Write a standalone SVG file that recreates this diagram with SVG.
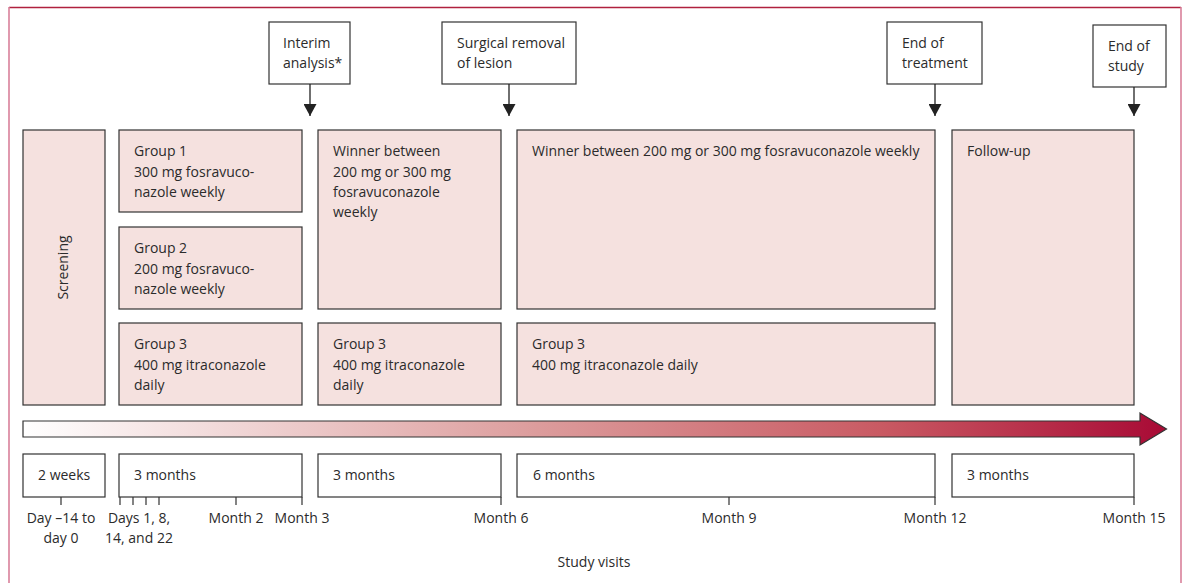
<svg xmlns="http://www.w3.org/2000/svg" width="1187" height="583" viewBox="0 0 1187 583">
<style>
text{font-family:"Open Sans","Noto Sans","Liberation Sans",sans-serif;font-size:14px;fill:#2b2b2b}
.box{fill:#f5e1df;stroke:#333;stroke-width:1.2}
.wbox{fill:#fff;stroke:#333;stroke-width:1.2}
.tick{stroke:#333;stroke-width:1.2;fill:none}
.conn{stroke:#222;stroke-width:1.3;fill:none}
.mid{text-anchor:middle}
</style>
<defs>
<marker id="ah" viewBox="0 0 12 13" refX="12" refY="6.5" markerWidth="12" markerHeight="13" markerUnits="userSpaceOnUse" orient="auto">
<path d="M0,0L12,6.5L0,13Z" fill="#222"/>
</marker>
<linearGradient id="grad" x1="23" y1="0" x2="1167" y2="0" gradientUnits="userSpaceOnUse">
<stop offset="0" stop-color="#ffffff"/>
<stop offset="0.45" stop-color="#dc9c9c"/>
<stop offset="0.75" stop-color="#c95a63"/>
<stop offset="1" stop-color="#a80a35"/>
</linearGradient>
</defs>
<g id="frame">
<line x1="9" y1="7.5" x2="1181" y2="7.5" stroke="#b0213f" stroke-width="1.3"/>
<line x1="9" y1="7" x2="9" y2="583" stroke="#d9809a" stroke-width="1.6"/>
<line x1="1181" y1="7" x2="1181" y2="583" stroke="#d9809a" stroke-width="1.6"/>
</g>
<g id="interim"><rect class="wbox" x="269" y="22" width="81" height="62"/><text x="283" y="48">Interim</text><text x="283" y="68">analysis*</text></g>
<g id="surgical"><rect class="wbox" x="442" y="22" width="134" height="62"/><text x="457" y="48">Surgical removal</text><text x="457" y="68">of lesion</text></g>
<g id="endtreat"><rect class="wbox" x="887" y="22" width="95" height="62"/><text x="902" y="48">End of</text><text x="902" y="68">treatment</text></g>
<g id="endstudy"><rect class="wbox" x="1093" y="25" width="73" height="62"/><text x="1108" y="51">End of</text><text x="1108" y="71">study</text></g>
<g id="connectors">
<line class="conn" x1="310" y1="84" x2="310" y2="116" marker-end="url(#ah)"/>
<line class="conn" x1="509" y1="84" x2="509" y2="116" marker-end="url(#ah)"/>
<line class="conn" x1="935" y1="84" x2="935" y2="116" marker-end="url(#ah)"/>
<line class="conn" x1="1134" y1="87" x2="1134" y2="116" marker-end="url(#ah)"/>
</g>
<g id="screening"><rect class="box" x="23" y="130" width="82" height="275"/><text class="mid" transform="translate(68,267.5) rotate(-90)">Screening</text></g>
<g id="group1"><rect class="box" x="119" y="130" width="183" height="82"/><text x="134" y="156">Group 1</text><text x="134" y="177">300 mg fosravuco-</text><text x="134" y="197">nazole weekly</text></g>
<g id="group2"><rect class="box" x="119" y="227" width="183" height="82"/><text x="134" y="253">Group 2</text><text x="134" y="274">200 mg fosravuco-</text><text x="134" y="294">nazole weekly</text></g>
<g id="group3a"><rect class="box" x="119" y="323" width="183" height="82"/><text x="134" y="349">Group 3</text><text x="134" y="370">400 mg itraconazole</text><text x="134" y="390">daily</text></g>
<g id="winner1"><rect class="box" x="318" y="130" width="183" height="179"/><text x="333" y="156">Winner between</text><text x="333" y="177">200 mg or 300 mg</text><text x="333" y="197">fosravuconazole</text><text x="333" y="217">weekly</text></g>
<g id="group3b"><rect class="box" x="318" y="323" width="183" height="82"/><text x="333" y="349">Group 3</text><text x="333" y="370">400 mg itraconazole</text><text x="333" y="390">daily</text></g>
<g id="winner2"><rect class="box" x="517" y="130" width="418" height="179"/><text x="532" y="156">Winner between 200 mg or 300 mg fosravuconazole weekly</text></g>
<g id="group3c"><rect class="box" x="517" y="323" width="418" height="82"/><text x="532" y="349">Group 3</text><text x="532" y="370">400 mg itraconazole daily</text></g>
<g id="followup"><rect class="box" x="952" y="130" width="182" height="275"/><text x="967" y="156">Follow-up</text></g>
<g id="timearrow"><path d="M23,421H1140V413L1166.5,429L1140,445V437H23Z" fill="url(#grad)" stroke="#333" stroke-width="1.2" stroke-linejoin="miter"/></g>
<g id="dur1"><rect class="wbox" x="23" y="454" width="82" height="43"/><text x="38" y="480">2 weeks</text></g>
<g id="dur2"><rect class="wbox" x="119" y="454" width="183" height="43"/><text x="134" y="480">3 months</text></g>
<g id="dur3"><rect class="wbox" x="318" y="454" width="183" height="43"/><text x="333" y="480">3 months</text></g>
<g id="dur4"><rect class="wbox" x="517" y="454" width="418" height="43"/><text x="533" y="480">6 months</text></g>
<g id="dur5"><rect class="wbox" x="952" y="454" width="182" height="43"/><text x="967" y="480">3 months</text></g>
<g id="ticks">
<path class="tick" d="M61,497V505M120,497V505M133,497V505M146,497V505M159,497V505M236,497V505M302,497V505M501,497V505M729,497V505M935,497V505M1134,497V505"/>
</g>
<g id="labels">
<text class="mid" x="61" y="523">Day –14 to</text><text class="mid" x="61" y="543">day 0</text>
<text class="mid" x="139" y="523">Days 1, 8,</text><text class="mid" x="139" y="543">14, and 22</text>
<text class="mid" x="236" y="523">Month 2</text>
<text class="mid" x="302" y="523">Month 3</text>
<text class="mid" x="501" y="523">Month 6</text>
<text class="mid" x="729" y="523">Month 9</text>
<text class="mid" x="935" y="523">Month 12</text>
<text class="mid" x="1134" y="523">Month 15</text>
<text class="mid" x="594" y="567">Study visits</text>
</g>
</svg>
